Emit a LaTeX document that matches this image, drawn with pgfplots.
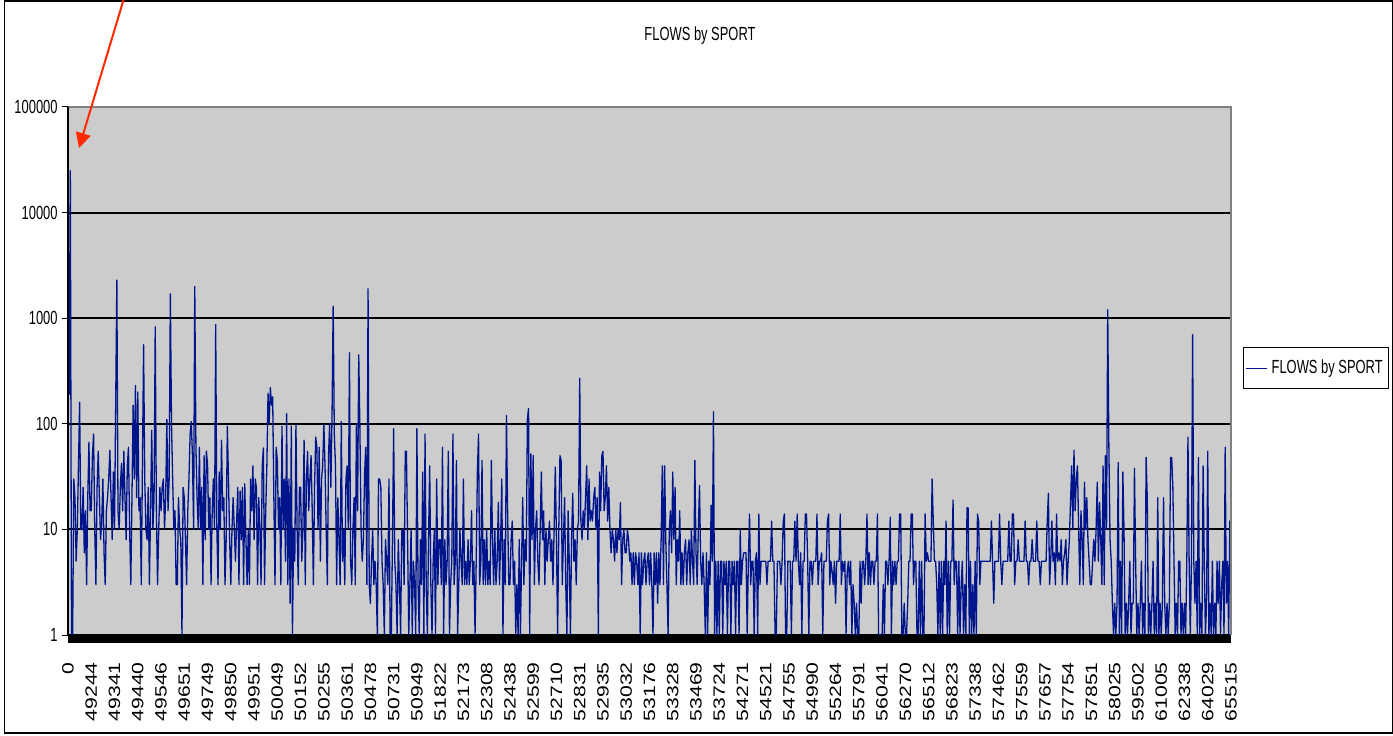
\documentclass[border=0pt]{standalone}
\usepackage{pgfplots}
\pgfplotsset{compat=1.18}
\usepackage{pgfplotstable}
\usepackage{fontspec}
\setmainfont{Liberation Sans}
\usetikzlibrary{arrows.meta}
\definecolor{plotbg}{RGB}{204,204,204}
\definecolor{flowblue}{RGB}{0,20,140}
\definecolor{arrowred}{RGB}{255,40,0}
\definecolor{bordergray}{RGB}{128,128,128}
\newcommand{\sq}[1]{\scalebox{0.68}[1]{#1}}
\newcommand{\sx}[1]{\scalebox{1.29}[1]{#1}}

% FLOWS by SPORT, 20 readings per labelled category interval
\pgfplotstableread[row sep=\\]{
v\\
360\\190\\25000\\1\\1\\30\\20\\5\\10\\40\\160\\10\\10\\25\\6\\15\\3\\20\\67\\15\\
15\\50\\80\\10\\3\\25\\55\\20\\8\\12\\30\\6\\3\\15\\20\\30\\56\\20\\8\\35\\
10\\150\\2300\\15\\10\\25\\42\\15\\55\\20\\8\\40\\60\\10\\3\\20\\150\\30\\230\\20\\
200\\15\\20\\3\\40\\560\\30\\10\\8\\25\\3\\15\\87\\10\\20\\830\\15\\3\\10\\25\\
15\\25\\30\\10\\20\\110\\15\\30\\1700\\100\\30\\10\\15\\3\\3\\20\\10\\8\\1\\25\\
20\\8\\3\\15\\30\\80\\105\\50\\10\\2000\\60\\20\\10\\60\\10\\25\\3\\50\\8\\55\\
41\\10\\20\\3\\15\\30\\10\\870\\10\\3\\35\\10\\70\\15\\20\\3\\8\\95\\30\\8\\
3\\10\\20\\10\\5\\12\\25\\3\\23\\8\\25\\3\\27\\8\\3\\10\\3\\30\\15\\40\\
8\\30\\25\\3\\20\\10\\3\\40\\59\\3\\15\\40\\195\\100\\220\\150\\180\\20\\3\\60\\
45\\10\\20\\3\\95\\10\\30\\5\\125\\3\\30\\2\\95\\1\\10\\5\\100\\10\\3\\25\\
25\\5\\10\\70\\3\\30\\55\\15\\30\\50\\15\\3\\25\\75\\60\\10\\60\\5\\30\\40\\
100\\40\\10\\3\\50\\100\\25\\110\\1300\\80\\40\\3\\20\\8\\3\\105\\5\\10\\3\\30\\
40\\10\\470\\5\\3\\10\\20\\3\\100\\15\\450\\90\\10\\5\\8\\33\\60\\3\\1900\\3\\
2\\5\\10\\3\\5\\3\\1\\30\\30\\25\\5\\3\\1\\8\\5\\3\\30\\1\\1\\8\\
90\\5\\3\\1\\8\\3\\1\\10\\10\\3\\55\\55\\8\\1\\3\\10\\1\\5\\3\\1\\
90\\3\\1\\8\\3\\35\\1\\80\\3\\1\\8\\40\\3\\1\\5\\10\\1\\30\\3\\8\\
8\\3\\60\\1\\8\\3\\5\\55\\1\\3\\5\\80\\3\\5\\45\\1\\3\\10\\5\\3\\
30\\3\\5\\3\\8\\3\\5\\15\\3\\5\\1\\5\\35\\80\\3\\5\\45\\3\\8\\3\\
10\\3\\5\\3\\45\\8\\3\\10\\3\\5\\18\\3\\8\\30\\1\\8\\3\\120\\15\\3\\
3\\8\\12\\3\\5\\1\\3\\1\\8\\1\\5\\20\\3\\8\\5\\110\\140\\1\\52\\8\\
50\\3\\10\\15\\5\\3\\10\\35\\8\\15\\3\\10\\5\\8\\12\\5\\8\\3\\10\\39\\
8\\1\\10\\50\\45\\3\\8\\20\\3\\1\\15\\5\\1\\8\\22\\5\\8\\3\\10\\12\\
270\\12\\8\\15\\10\\20\\40\\8\\30\\12\\15\\12\\20\\25\\10\\20\\1\\35\\15\\50\\
55\\15\\20\\40\\12\\25\\10\\6\\10\\8\\5\\10\\6\\10\\8\\18\\3\\8\\10\\6\\
6\\10\\8\\5\\6\\3\\6\\3\\6\\5\\3\\6\\1\\6\\3\\5\\6\\3\\5\\6\\
3\\6\\3\\1\\6\\3\\6\\2\\6\\3\\8\\40\\3\\40\\8\\3\\1\\10\\15\\6\\
35\\8\\25\\3\\8\\5\\15\\3\\6\\3\\6\\8\\3\\6\\8\\3\\10\\5\\3\\45\\
6\\3\\10\\26\\5\\3\\6\\3\\1\\6\\1\\5\\3\\17\\5\\130\\1\\5\\1\\5\\
1\\5\\5\\1\\5\\3\\5\\1\\5\\5\\1\\5\\3\\5\\1\\5\\5\\1\\10\\3\\
5\\6\\6\\6\\1\\5\\14\\3\\5\\5\\1\\5\\6\\1\\14\\3\\5\\5\\5\\5\\
5\\3\\5\\5\\5\\12\\5\\5\\1\\1\\5\\5\\5\\3\\5\\12\\14\\1\\1\\5\\
5\\5\\1\\5\\5\\12\\5\\14\\5\\3\\6\\1\\5\\5\\14\\14\\5\\1\\5\\5\\
3\\5\\5\\5\\14\\3\\5\\5\\6\\1\\5\\5\\5\\12\\14\\3\\5\\4\\3\\5\\
2\\5\\5\\5\\14\\3\\5\\4\\5\\1\\4\\5\\3\\5\\1\\3\\2\\1\\2\\1\\
1\\5\\2\\5\\5\\3\\5\\14\\3\\6\\3\\5\\5\\3\\5\\5\\14\\1\\1\\1\\
1\\3\\1\\5\\5\\3\\5\\13\\1\\5\\3\\5\\3\\5\\5\\14\\14\\1\\1\\2\\
1\\1\\2\\5\\5\\14\\14\\3\\5\\5\\1\\1\\5\\1\\5\\1\\1\\14\\5\\6\\
5\\5\\5\\30\\12\\5\\5\\3\\1\\5\\1\\5\\1\\5\\3\\12\\1\\5\\1\\5\\
5\\19\\3\\5\\5\\1\\5\\1\\3\\5\\1\\3\\1\\16\\16\\1\\5\\1\\3\\1\\
5\\1\\14\\12\\3\\5\\5\\5\\5\\5\\5\\5\\5\\5\\12\\5\\2\\5\\5\\5\\
5\\14\\5\\3\\5\\5\\5\\5\\5\\12\\5\\5\\14\\14\\3\\5\\5\\8\\5\\5\\
5\\5\\5\\12\\5\\5\\3\\5\\5\\8\\5\\5\\5\\12\\5\\5\\3\\5\\5\\5\\
5\\5\\12\\22\\3\\5\\12\\5\\6\\3\\14\\5\\6\\5\\8\\3\\5\\6\\8\\3\\
5\\8\\18\\40\\10\\56\\15\\30\\40\\10\\3\\15\\8\\3\\28\\10\\20\\8\\5\\3\\
3\\5\\8\\5\\10\\28\\5\\18\\8\\3\\40\\3\\50\\10\\1200\\60\\8\\5\\2\\1\\
2\\1\\2\\43\\1\\5\\1\\35\\10\\1\\2\\1\\2\\5\\1\\2\\2\\38\\5\\1\\
2\\1\\2\\5\\1\\2\\1\\48\\20\\1\\2\\1\\2\\5\\1\\2\\1\\20\\1\\2\\
1\\2\\20\\2\\1\\2\\1\\2\\48\\48\\25\\5\\1\\2\\1\\5\\5\\1\\2\\1\\
2\\1\\5\\75\\5\\1\\5\\700\\5\\2\\5\\1\\48\\1\\2\\1\\40\\5\\1\\2\\
55\\1\\2\\1\\5\\1\\2\\1\\5\\2\\5\\1\\3\\5\\1\\60\\2\\5\\1\\12\\
2\\
}\flows

\begin{document}
\begin{tikzpicture}
\useasboundingbox (0pt,0pt) rectangle (696.5pt,367.5pt);
\draw[black, line width=0.75pt] (2.35pt,1pt) rectangle (696.25pt,367pt);
\node[anchor=base, font=\fontsize{9.5}{10}\selectfont, inner sep=0pt] at (350pt,347pt) {\sq{FLOWS by SPORT}};
\begin{axis}[
  at={(34pt,50pt)}, anchor=south west,
  scale only axis, width=581.5pt, height=264pt,
  ymode=log, log basis y=10,
  xmin=0, xmax=50, ymin=1, ymax=100000,
  axis background/.style={fill=plotbg},
  axis line style={draw=none},
  clip mode=individual,
  xtick={0,...,50},
  xticklabels={\sx{0},\sx{49244},\sx{49341},\sx{49440},\sx{49546},\sx{49651},\sx{49749},\sx{49850},\sx{49951},\sx{50049},\sx{50152},\sx{50255},\sx{50361},\sx{50478},\sx{50731},\sx{50949},\sx{51822},\sx{52173},\sx{52308},\sx{52438},\sx{52599},\sx{52710},\sx{52831},\sx{52935},\sx{53032},\sx{53176},\sx{53328},\sx{53469},\sx{53724},\sx{54271},\sx{54521},\sx{54755},\sx{54990},\sx{55264},\sx{55791},\sx{56041},\sx{56270},\sx{56512},\sx{56823},\sx{57338},\sx{57462},\sx{57559},\sx{57657},\sx{57754},\sx{57851},\sx{58025},\sx{59502},\sx{61005},\sx{62338},\sx{64029},\sx{65515}},
  ytick={1,10,100,1000,10000,100000},
  yticklabels={\sq{1},\sq{10},\sq{100},\sq{1000},\sq{10000},\sq{100000}},
  ytick pos=left,
  yminorticks=false,
  ymajorgrids, grid style={black, line width=1pt},
  tick align=outside,
  major tick length=3pt,
  x tick style={draw=none},
  y tick style={black, line width=0.5pt},
  xticklabel style={rotate=90, anchor=east, inner sep=0pt, font=\fontsize{8.2}{9}\selectfont},
  xticklabel shift=10.5pt,
  yticklabel style={inner sep=0pt, font=\fontsize{9.5}{10}\selectfont},
  yticklabel shift=2pt,
  legend style={at={(1.0101,0.505)}, anchor=west, draw=black, line width=0.5pt, fill=white,
     font=\fontsize{9.5}{10}\selectfont, inner xsep=1pt, inner ysep=4pt,
     /tikz/every even column/.append style={column sep=0pt}},
  legend cell align=left,
  legend image code/.code={\draw[flowblue, line width=0.7pt] (0pt,0pt) -- (10.5pt,0pt);},
]
\addplot[flowblue, line width=0.65pt, line join=round] table[x expr=\coordindex/20, y=v] {\flows};
\addlegendentry{\sq{FLOWS by SPORT}}
\draw[bordergray, line width=1pt] (rel axis cs:0,1) -- (rel axis cs:1,1) -- (rel axis cs:1,0);
\draw[black, line width=0.6pt] (rel axis cs:0,0) -- (rel axis cs:0,1);
\fill[black] (rel axis cs:0,0) rectangle ([yshift=-4pt]rel axis cs:1,0);
\end{axis}
\draw[arrowred, line width=1pt, -{Triangle[length=7.5pt,width=7.5pt]}] (61.75pt,367.5pt) -- (39.5pt,293.5pt);
\end{tikzpicture}
\end{document}
